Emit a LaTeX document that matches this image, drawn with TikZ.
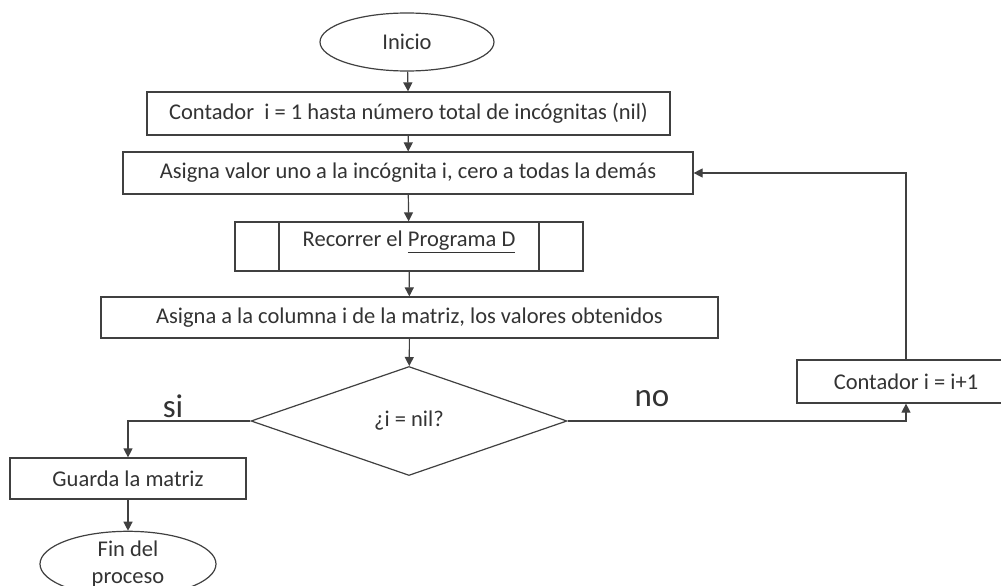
\documentclass[tikz,border=0pt]{standalone}
\usepackage{fontspec}
\setmainfont{Carlito}
\usetikzlibrary{shapes.geometric,arrows.meta}
\begin{document}
\begin{tikzpicture}[x=1pt,y=-1pt,
  line/.style={draw=black!75,line width=1.2pt},
  arr/.style={line,-{Triangle[width=9pt,length=9pt]}},
  boxx/.style={line,fill=white,rectangle,inner sep=0pt,text=black!80,font=\fontsize{22.5}{26}\selectfont},
  ovalx/.style={line,fill=white,ellipse,inner sep=0pt,text=black!80,font=\fontsize{22.5}{27}\selectfont,align=center},
  lbl/.style={text=black!80,font=\fontsize{33}{36}\selectfont,inner sep=0pt}
]
\clip (0,0) rectangle (1001,586);
\fill[white] (0,0) rectangle (1001,586);
\node[ovalx,minimum width=174pt,minimum height=58pt] (ini) at (407,42) {Inicio};
\node[boxx,minimum width=523pt,minimum height=43pt] (c1) at (408.5,113.5) {Contador\ \ i = 1 hasta número total de incógnitas (nil)};
\node[boxx,minimum width=570pt,minimum height=42pt] (a1) at (408,173) {Asigna valor uno a la incógnita i, cero a todas la demás};
\node[boxx,minimum width=348pt,minimum height=49pt] (rec) at (409,246.5) {};
\draw[line] (279,222) -- (279,271) (539,222) -- (539,271);
\node[text=black!80,font=\fontsize{22.5}{26}\selectfont,inner sep=0pt] (rect) at (409,242) {Recorrer el \underline{Programa D}};
\node[boxx,minimum width=617pt,minimum height=41pt] (a2) at (409.5,317.5) {Asigna a la columna i de la matriz, los valores obtenidos};
\node[line,fill=white,diamond,inner sep=0pt,minimum width=316pt,minimum height=109pt,aspect=2.9,text=black!80,font=\fontsize{22.5}{26}\selectfont] (dec) at (409,421) {¿i = nil?};
\node[boxx,minimum width=218pt,minimum height=43pt] (c2) at (906,381.5) {Contador i = i+1};
\node[boxx,minimum width=236pt,minimum height=41pt] (g) at (128,478.5) {Guarda la matriz};
\node[ovalx,minimum width=176pt,minimum height=62pt] (fin) at (128,564) {Fin del\\proceso};
\node[lbl] (si) at (173,406) {si};
\node[lbl] (no) at (652,399) {no};
\coordinate (lc) at (128,421);
\coordinate (rc) at (906,421);
\coordinate (tc) at (906,173);
\draw[arr] (ini) -- (c1);
\draw[arr] (c1) -- (a1);
\draw[arr] (a1) -- (rec);
\draw[arr] (rec) -- (a2);
\draw[arr] (a2) -- (dec);
\draw[arr] (dec.west) -- (lc) -- (g.north);
\draw[arr] (dec.east) -- (rc) -- (c2.south);
\draw[arr] (c2.north) -- (tc) -- (a1.east);
\draw[arr] (g) -- (fin);
\end{tikzpicture}
\end{document}
